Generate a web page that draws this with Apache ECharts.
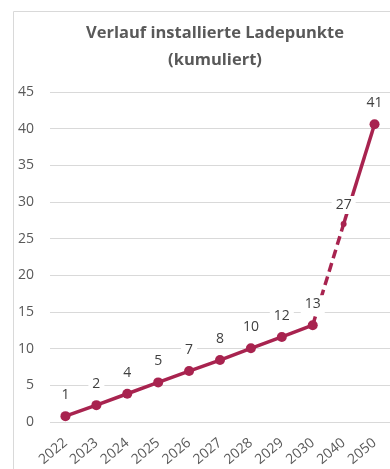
<!DOCTYPE html>
<html><head><meta charset="utf-8">
<script src="https://cdn.jsdelivr.net/npm/echarts@6/dist/echarts.min.js"></script>
<style>html,body{margin:0;padding:0;background:#fff}#c{width:390px;height:469px}</style>
</head><body><div id="c"></div>
<script>
const categories = ['2022','2023','2024','2025','2026','2027','2028','2029','2030','2040','2050'];
const values = [0.8, 2.3, 3.85, 5.4, 6.95, 8.45, 10.05, 11.6, 13.2, 27.0, 40.6];
const yTicks = {min: 0, max: 45, interval: 5};
const titleText = 'Verlauf installierte Ladepunkte\n(kumuliert)';

const color = '#a8234f';
const solidA = values.map((v, i) => i <= 8 ? v : null);
const dashed = values.map((v, i) => (i === 8 || i === 9) ? v : null);
const solidB = values.map((v, i) => (i === 9 || i === 10) ? v : null);

const chart = echarts.init(document.getElementById('c'));
chart.setOption({
  animation: false,
  title: {
    text: titleText, left: 210, top: 15, textAlign: 'center',
    textStyle: {fontFamily: 'Open Sans', fontWeight: 'bold', fontSize: 16.5, color: '#595959', lineHeight: 27}
  },
  graphic: [{type: 'rect', shape: {x: 13.5, y: 11.5, width: 420, height: 500}, style: {fill: 'none', stroke: '#d9d9d9', lineWidth: 1}, z: -1}],
  grid: {left: 50, top: 92, width: 347, height: 330},
  xAxis: {
    type: 'category', data: categories, boundaryGap: true,
    axisLine: {show: false}, axisTick: {show: false},
    axisLabel: {rotate: 40, margin: 19, color: '#595959', fontFamily: 'Open Sans', fontSize: 14}
  },
  yAxis: {
    type: 'value', min: yTicks.min, max: yTicks.max, interval: yTicks.interval,
    axisLine: {show: false}, axisTick: {show: false},
    splitLine: {lineStyle: {color: '#d9d9d9', width: 1}},
    axisLabel: {margin: 16, color: '#595959', fontFamily: 'Open Sans', fontSize: 14}
  },
  series: [
    {type: 'line', data: dashed, connectNulls: false, symbol: 'none',
     lineStyle: {color: color, width: 3.5, type: [9, 5]}, z: 2},
    {type: 'line', data: solidB, symbol: 'none', lineStyle: {color: color, width: 3.5}, z: 2},
    {type: 'line', data: solidA, symbol: 'none', lineStyle: {color: color, width: 3.5}, z: 2},
    {type: 'line', data: values, symbol: 'circle',
     symbolSize: (v, p) => p.dataIndex === 9 ? 6 : 10,
     itemStyle: {color: color}, lineStyle: {width: 0, opacity: 0}, z: 4,
     label: {show: true, position: 'top', distance: 7, color: '#404040', fontFamily: 'Open Sans', fontSize: 14,
       backgroundColor: '#fff', padding: [2, 4],
       formatter: p => Math.round(p.value)}}
  ]
});
</script></body></html>
